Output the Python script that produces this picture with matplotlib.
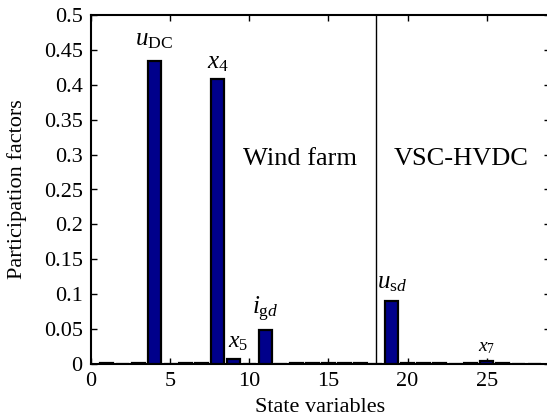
import numpy as np
import matplotlib.pyplot as plt
from matplotlib.ticker import FuncFormatter

plt.rcParams['font.family'] = ['Liberation Serif', 'DejaVu Serif']
plt.rcParams['mathtext.fontset'] = 'custom'
plt.rcParams['mathtext.rm'] = 'Liberation Serif'
plt.rcParams['mathtext.it'] = 'Liberation Serif:italic'

# state variable index and participation factor
states = np.arange(1, 29)
factors = [0.001, 0.0, 0.001, 0.434, 0.0, 0.001, 0.001, 0.408, 0.007, 0.0,
           0.0487, 0.0, 0.001, 0.001, 0.001, 0.001, 0.001, 0.0, 0.09, 0.002,
           0.001, 0.001, 0.0, 0.001, 0.004, 0.001, 0.0, 0.0]

# annotated states
ann_x = [4, 8, 9.3, 11, 19, 25]
ann_y = [0.449, 0.415, 0.016, 0.058, 0.1, 0.012]
ann_txt = [r'$u_{\mathrm{DC}}$', r'$x_4$', r'$x_5$', r'$i_{\mathrm{g}d}$',
           r'$u_{\mathrm{s}d}$', r'$x_7$']
ann_size = [18, 18, 17, 18, 18, 14]

boundary = 18

fig = plt.figure(figsize=(5.47, 4.19), dpi=100)
ax = fig.add_axes([91 / 547, 55 / 419, 459 / 547, 349 / 419])

ax.bar(states, factors, width=0.82, color='#00008B', edgecolor='black',
       linewidth=1.6, zorder=3)
ax.axvline(boundary, color='black', linewidth=1.0)

for x, y, t, s in zip(ann_x, ann_y, ann_txt, ann_size):
    ax.text(x, y, t, fontsize=s, ha='center', va='bottom')

ax.text(13.2, 0.293, 'Wind farm', fontsize=19, ha='center', va='center')
ax.text(23.4, 0.293, 'VSC-HVDC', fontsize=19, ha='center', va='center')

ax.set_xlim(0, 29)
ax.set_ylim(0, 0.5)
ax.set_xticks([0, 5, 10, 15, 20, 25])
ax.set_yticks(np.arange(0, 0.501, 0.05))
ax.yaxis.set_major_formatter(FuncFormatter(lambda v, p: ('%.2f' % v).rstrip('0').rstrip('.')))
ax.tick_params(direction='in', top=True, right=True, length=4, width=1,
               labelsize=16, pad=6)
for sp in ax.spines.values():
    sp.set_linewidth(1.5)

ax.set_xlabel('State variables', fontsize=16, labelpad=5)
ax.set_ylabel('Participation factors', fontsize=16, labelpad=12)

fig.savefig('out.png', dpi=100)
